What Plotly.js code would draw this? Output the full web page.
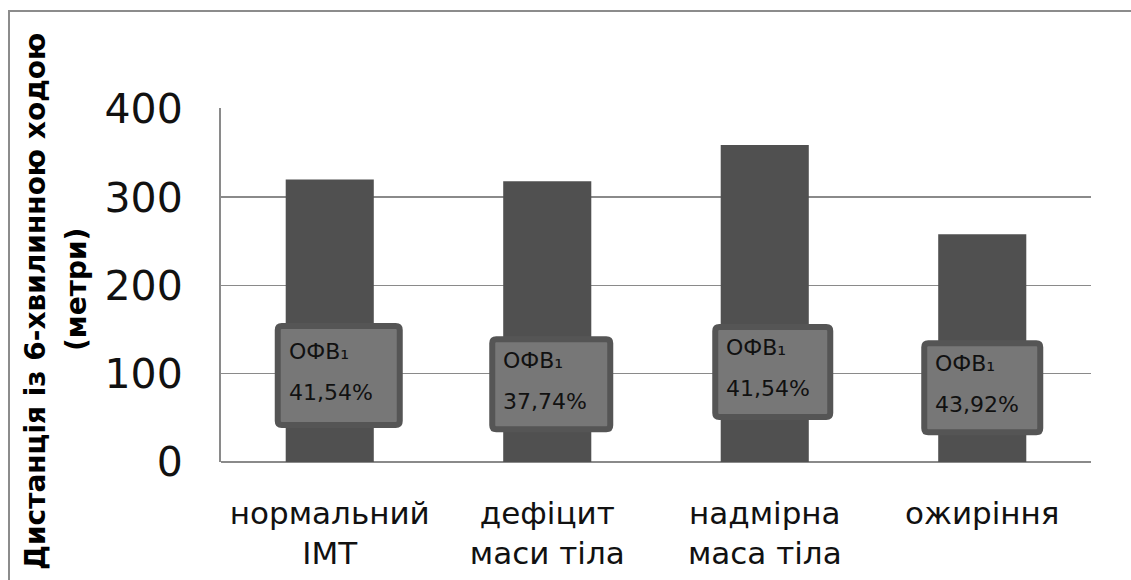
<!DOCTYPE html>
<html>
<head>
<meta charset="utf-8">
<script src="https://cdn.plot.ly/plotly-3.0.1.min.js"></script>
<style>
  html, body { margin: 0; padding: 0; background: #ffffff; }
  #chart { width: 1131px; height: 580px; }
</style>
</head>
<body>
<div id="chart"></div>
<script>
// ---- data ----
const categories = ["нормальний<br>ІМТ", "дефіцит<br>маси тіла", "надмірна<br>маса тіла", "ожиріння"];
const distances = [320, 318, 359, 258];
const labelTitle = "ОФВ₁";
const fev1 = ["41,54%", "37,74%", "41,54%", "43,92%"];
const labelY = [98, 88, 102, 84];          // value height where each label box sits
const yTicks = [0, 100, 200, 300, 400];
const yTitleLines = ["Дистанція із 6-хвилинною ходою", "(метри)"];

// ---- layout helpers (positions/styles, not data) ----
const boxShiftX = [9, 4, 8, 0];
const boxW = [122, 118, 115, 116];
const boxH = [99, 90, 90, 89];

const FONT = "DejaVu Sans, sans-serif";
const M = { l: 221, r: 40, t: 108, b: 118 };
const PW = 1131 - M.l - M.r, PH = 580 - M.t - M.b;
const px2x = (px) => (px - M.l) / PW;
const px2y = (py) => (580 - M.b - py) / PH;

function roundRectPath(w, h, r, dx) {
  const x0 = -w / 2 + dx, x1 = w / 2 + dx, y0 = -h / 2, y1 = h / 2;
  return `M${x0 + r},${y0} L${x1 - r},${y0} Q${x1},${y0} ${x1},${y0 + r} ` +
         `L${x1},${y1 - r} Q${x1},${y1} ${x1 - r},${y1} L${x0 + r},${y1} ` +
         `Q${x0},${y1} ${x0},${y1 - r} L${x0},${y0 + r} Q${x0},${y0} ${x0 + r},${y0} Z`;
}

const annotations = [];
const shapes = [{
  type: "rect", xref: "paper", yref: "paper",
  x0: px2x(9), x1: 2,
  y0: -2, y1: px2y(11),
  line: { color: "#8c8c8c", width: 2 },
  fillcolor: "rgba(0,0,0,0)", layer: "below"
}];

categories.forEach((c, i) => {
  shapes.push({
    type: "path", xref: "x", yref: "y",
    xsizemode: "pixel", ysizemode: "pixel",
    xanchor: i, yanchor: labelY[i],
    path: roundRectPath(boxW[i], boxH[i], 4, boxShiftX[i]),
    fillcolor: "#777777",
    line: { color: "#555555", width: 6 },
    layer: "above"
  });
  const left = boxShiftX[i] - (boxW[i] + 6) / 2 + 12;
  annotations.push({
    x: c, y: labelY[i], xref: "x", yref: "y",
    text: labelTitle, showarrow: false,
    xanchor: "left", yanchor: "middle",
    xshift: left, yshift: 24,
    font: { family: FONT, size: 22, color: "#111111" }
  });
  annotations.push({
    x: c, y: labelY[i], xref: "x", yref: "y",
    text: fev1[i], showarrow: false,
    xanchor: "left", yanchor: "middle",
    xshift: left, yshift: -17,
    font: { family: FONT, size: 22, color: "#111111" }
  });
});

// y-axis title, two lines placed separately for the reference's wider line spacing
const titlePos = [[35, 302], [76, 290]];
yTitleLines.forEach((t, k) => {
  annotations.push({
    xref: "paper", yref: "paper",
    x: px2x(titlePos[k][0]), y: px2y(titlePos[k][1]),
    xanchor: "center", yanchor: "middle",
    text: "<b>" + t + "</b>", textangle: -90, showarrow: false,
    font: { family: FONT, size: 28, color: "#000000" }
  });
});

const trace = {
  type: "bar",
  x: categories,
  y: distances,
  marker: { color: "#505050" },
  hoverinfo: "x+y"
};

const layout = {
  width: 1131, height: 580,
  margin: { l: M.l, r: M.r, t: M.t, b: M.b, pad: 0 },
  paper_bgcolor: "#ffffff", plot_bgcolor: "#ffffff",
  showlegend: false,
  bargap: 0.595,
  font: { family: FONT, color: "#000000" },
  xaxis: {
    type: "category",
    tickfont: { family: FONT, size: 31, color: "#111111" },
    showgrid: false, zeroline: false, showline: false,
    ticks: "", ticklabelstandoff: 30,
    automargin: false
  },
  yaxis: {
    range: [0, 401],
    tickvals: yTicks,
    ticktext: yTicks.map(String),
    tickfont: { family: FONT, size: 41, color: "#111111" },
    showgrid: true, gridcolor: "#8a8a8a", gridwidth: 1.5,
    zeroline: true, zerolinecolor: "#8a8a8a", zerolinewidth: 2,
    showline: true, linecolor: "#8a8a8a", linewidth: 2,
    ticks: "", ticklabelstandoff: 28,
    automargin: false
  },
  annotations: annotations,
  shapes: shapes
};

Plotly.newPlot("chart", [trace], layout, { displayModeBar: false, staticPlot: true });
</script>
</body>
</html>
